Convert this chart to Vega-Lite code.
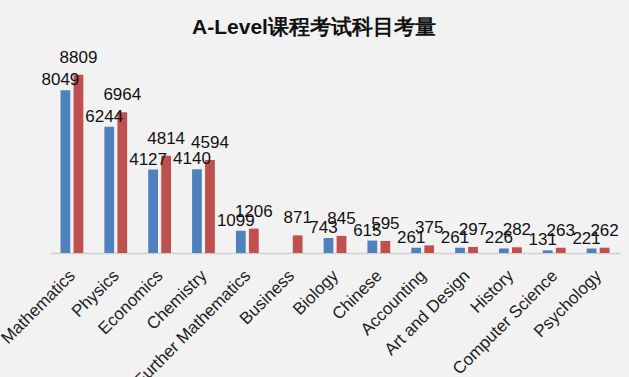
{
  "$schema": "https://vega.github.io/schema/vega-lite/v6.json",
  "width": 570,
  "height": 182,
  "autosize": {"type": "none"},
  "padding": {"left": 50, "top": 71, "right": 9, "bottom": 124},
  "background": "#f2f2f2",
  "title": {
    "text": "A-Level课程考试科目考量",
    "font": "Liberation Sans",
    "fontSize": 21,
    "fontWeight": "bold",
    "color": "#111111",
    "anchor": "middle",
    "frame": "group",
    "dx": -21,
    "offset": 11
  },
  "config": {"view": {"stroke": null}},
  "data": {
    "values": [
      {"subject": "Mathematics", "series": "A", "value": 8049},
      {"subject": "Mathematics", "series": "B", "value": 8809},
      {"subject": "Physics", "series": "A", "value": 6244},
      {"subject": "Physics", "series": "B", "value": 6964},
      {"subject": "Economics", "series": "A", "value": 4127},
      {"subject": "Economics", "series": "B", "value": 4814},
      {"subject": "Chemistry", "series": "A", "value": 4140},
      {"subject": "Chemistry", "series": "B", "value": 4594},
      {"subject": "Further Mathematics", "series": "A", "value": 1099},
      {"subject": "Further Mathematics", "series": "B", "value": 1206},
      {"subject": "Business", "series": "B", "value": 871},
      {"subject": "Biology", "series": "A", "value": 743},
      {"subject": "Biology", "series": "B", "value": 845},
      {"subject": "Chinese", "series": "A", "value": 615},
      {"subject": "Chinese", "series": "B", "value": 595},
      {"subject": "Accounting", "series": "A", "value": 261},
      {"subject": "Accounting", "series": "B", "value": 375},
      {"subject": "Art and Design", "series": "A", "value": 261},
      {"subject": "Art and Design", "series": "B", "value": 297},
      {"subject": "History", "series": "A", "value": 226},
      {"subject": "History", "series": "B", "value": 282},
      {"subject": "Computer Science", "series": "A", "value": 131},
      {"subject": "Computer Science", "series": "B", "value": 263},
      {"subject": "Psychology", "series": "A", "value": 221},
      {"subject": "Psychology", "series": "B", "value": 262}
    ]
  },
  "encoding": {
    "x": {
      "field": "subject",
      "type": "nominal",
      "sort": ["Mathematics", "Physics", "Economics", "Chemistry", "Further Mathematics", "Business", "Biology", "Chinese", "Accounting", "Art and Design", "History", "Computer Science", "Psychology"],
      "scale": {"paddingInner": 0.48, "paddingOuter": 0.24},
      "axis": {
        "title": null,
        "labelAngle": -45,
        "labelFont": "Liberation Sans",
        "labelFontSize": 17,
        "labelColor": "#222222",
        "ticks": false,
        "labelPadding": 14,
        "labelOffset": -5,
        "domainColor": "#d0d0d0",
        "domainWidth": 1.5
      }
    },
    "xOffset": {"field": "series", "type": "nominal", "scale": {"domain": ["A", "B"], "paddingInner": 0.25}},
    "y": {
      "field": "value",
      "type": "quantitative",
      "scale": {"domain": [0, 9000], "nice": false},
      "axis": null
    }
  },
  "layer": [
    {
      "mark": {"type": "bar"},
      "encoding": {
        "color": {
          "field": "series",
          "type": "nominal",
          "scale": {"domain": ["A", "B"], "range": ["#4f81bd", "#c0504d"]},
          "legend": null
        }
      }
    },
    {
      "transform": [{"filter": "datum.series === 'A'"}],
      "mark": {"type": "text", "baseline": "alphabetic", "dy": -5, "dx": -5, "font": "Liberation Sans", "fontSize": 17, "color": "#111111"},
      "encoding": {"text": {"field": "value", "type": "quantitative"}}
    },
    {
      "transform": [{"filter": "datum.series === 'B'"}],
      "mark": {"type": "text", "baseline": "alphabetic", "dy": -12, "font": "Liberation Sans", "fontSize": 17, "color": "#111111"},
      "encoding": {"text": {"field": "value", "type": "quantitative"}}
    }
  ]
}
